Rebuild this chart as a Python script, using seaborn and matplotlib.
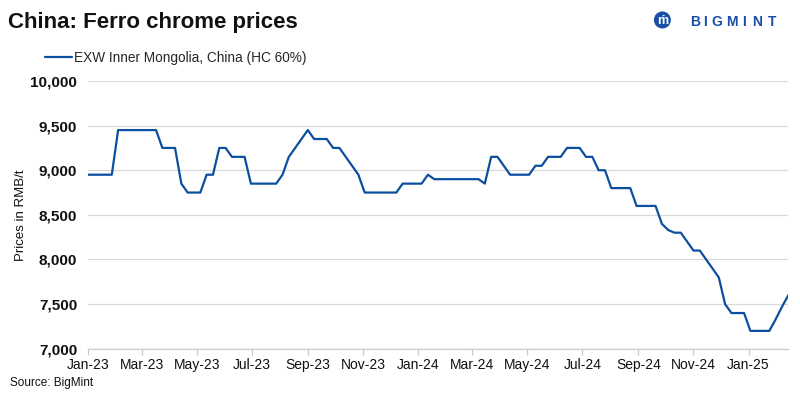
import pandas as pd
import numpy as np
import matplotlib.pyplot as plt
import matplotlib.dates as mdates
from matplotlib.ticker import FuncFormatter
from matplotlib.patches import Ellipse
import seaborn as sns

# weekly prices, RMB/t
prices = [
    8950, 8950, 8950, 8950, 8950,
    9450, 9450, 9450, 9450, 9450, 9450, 9450,
    9250, 9250, 9250, 8850, 8750, 8750, 8750,
    8950, 8950, 9250, 9250, 9150, 9150, 9150,
    8850, 8850, 8850, 8850, 8850,
    8950, 9150, 9250, 9350, 9450, 9350, 9350, 9350,
    9250, 9250, 9150, 9050, 8950,
    8750, 8750, 8750, 8750, 8750, 8750,
    8850, 8850, 8850, 8850, 8950,
    8900, 8900, 8900, 8900, 8900, 8900, 8900, 8900,
    8850, 9150, 9150, 9050, 8950, 8950, 8950, 8950,
    9050, 9050, 9150, 9150, 9150, 9250, 9250, 9250,
    9150, 9150, 9000, 9000, 8800, 8800, 8800, 8800,
    8600, 8600, 8600, 8600, 8400, 8330, 8300, 8300,
    8200, 8100, 8100, 8000, 7900, 7800, 7500,
    7400, 7400, 7400, 7200, 7200, 7200, 7200,
    7330, 7470, 7600,
]
dates = pd.date_range("2022-12-30", periods=len(prices), freq="7D")
series_name = "EXW Inner Mongolia, China (HC 60%)"
y_ticks = [7000, 7500, 8000, 8500, 9000, 9500, 10000]
x_ticks = pd.date_range("2023-01-01", "2025-01-01", freq="2MS")

df = pd.DataFrame({"date": dates, "price": prices})

sns.set_theme(style="whitegrid")
plt.rcParams['font.family'] = ['Liberation Sans', 'DejaVu Sans']

fig = plt.figure(figsize=(8, 3.99), dpi=100)
ax = fig.add_axes([0.1104, 0.126, 0.875, 0.671])

line_color = '#0B4F9F'
sns.lineplot(data=df, x='date', y='price', ax=ax, color=line_color,
             linewidth=1.6, label=series_name, legend=False)

ax.set_xlim(pd.Timestamp("2023-01-01"), pd.Timestamp("2025-02-14"))
ax.set_ylim(7000, 10000)
ax.set_yticks(y_ticks)
ax.yaxis.set_major_formatter(FuncFormatter(lambda v, p: f"{int(v):,}"))
ax.set_xticks(x_ticks)
ax.xaxis.set_major_formatter(mdates.DateFormatter("%b-%y"))

ax.grid(axis='y', color='#d9d9d9', linewidth=0.9)
ax.grid(axis='x', visible=False)
for s in ['left', 'right', 'top']:
    ax.spines[s].set_visible(False)
ax.spines['bottom'].set_color('#d0d0d0')
ax.spines['bottom'].set_linewidth(1.0)
ax.set_facecolor('white')

ax.tick_params(axis='x', which='major', bottom=True, length=4, width=0.9,
               color='#c8c8c8', labelsize=10, labelcolor='#111111', pad=3)
ax.tick_params(axis='y', length=0, labelsize=11, labelcolor='#111111', pad=8)
for lab in ax.get_yticklabels():
    lab.set_fontweight('bold')

ax.set_xlabel('')
ax.set_ylabel('Prices in RMB/t', fontsize=9.5, color='#111111')
ax.yaxis.set_label_coords(-0.088, 0.5)

# legend above plot
ax.legend(loc='center left', bbox_to_anchor=(-0.062, 1.086), frameon=False,
          fontsize=9.8, handlelength=2.0, handletextpad=0.15,
          borderaxespad=0, borderpad=0)

fig.text(0.01, 0.93, "China: Ferro chrome prices", fontsize=16,
         fontweight='bold', color='#111111', ha='left', va='baseline')
fig.text(0.012, 0.032, "Source: BigMint", fontsize=8.5, color='#111111',
         ha='left', va='baseline')

# BigMint logo
logo_blue = '#1A4FA8'
fig.patches.append(Ellipse((0.828, 0.95), 2 * 8.5 / 800, 2 * 8.5 / 399,
                           transform=fig.transFigure,
                           facecolor=logo_blue, edgecolor='none'))
fig.text(0.828, 0.947, "ṁ", fontsize=9, fontweight='bold', color='white',
         ha='center', va='center')
letter_x = [0.869, 0.881, 0.896, 0.915, 0.930, 0.946, 0.965]
for ch, xs in zip("BIGMINT", letter_x):
    fig.text(xs, 0.944, ch, fontsize=10, fontweight='bold', color=logo_blue,
             ha='center', va='center')

fig.savefig("out.png", dpi=100, facecolor='white')
